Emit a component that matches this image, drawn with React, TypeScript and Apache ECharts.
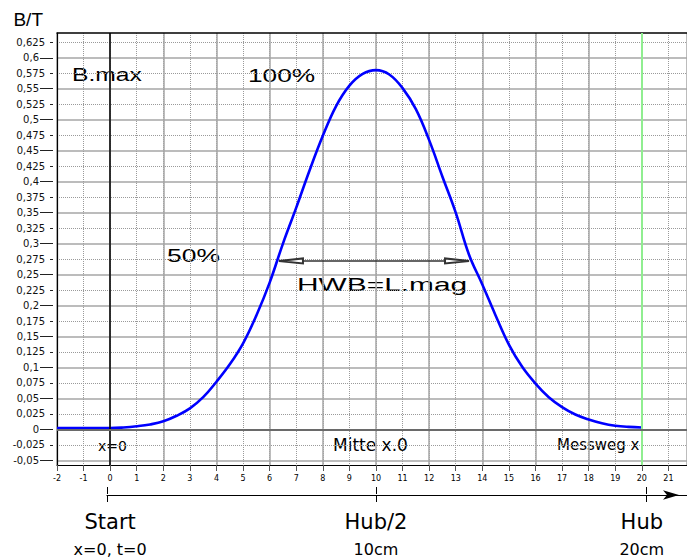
import React, { useEffect, useRef } from 'react';
import * as echarts from 'echarts';

// Position x along the stroke (cm) and measured flux density B (T)
const positions = [
  -2, -1.5, -1, -0.5, 0, 0.5, 1, 1.5, 2, 2.5, 3, 3.5, 4, 4.5, 5, 5.5, 6, 6.5, 7, 7.5,
  8, 8.5, 9, 9.5, 10, 10.5, 11, 11.5, 12, 12.5, 13, 13.5, 14, 14.5, 15, 15.5, 16, 16.5,
  17, 17.5, 18, 18.5, 19, 19.5, 20,
];
const fluxDensity = [
  0.002, 0.002, 0.002, 0.002, 0.002, 0.003, 0.005, 0.008, 0.013, 0.022, 0.034, 0.052,
  0.077, 0.105, 0.139, 0.184, 0.237, 0.300, 0.358, 0.418, 0.474, 0.522, 0.555, 0.574,
  0.580, 0.573, 0.551, 0.517, 0.467, 0.408, 0.350, 0.282, 0.234, 0.184, 0.137, 0.101,
  0.074, 0.052, 0.036, 0.024, 0.016, 0.010, 0.006, 0.004, 0.003,
];

const yMajorTicks = [-0.05, 0, 0.05, 0.1, 0.15, 0.2, 0.25, 0.3, 0.35, 0.4, 0.45, 0.5, 0.55, 0.6];
const yMinorTicks = [
  -0.025, 0.025, 0.075, 0.125, 0.175, 0.225, 0.275, 0.325, 0.375, 0.425, 0.475, 0.525, 0.575, 0.625,
];
const strokeTicks = [0, 10, 20];
const strokeLabels = ['Start', 'Hub/2', 'Hub'];
const strokeSubLabels = ['x=0, t=0', '10cm', '20cm'];

const startX = 0;
const endX = 20;
const hwbStart = 6.35;
const hwbEnd = 13.5;
const hwbLevel = 0.272;

const SANS = 'Liberation Sans, Arial, sans-serif';
const HAND = 'DejaVu Sans, sans-serif';

const fmtComma = (v: number) => String(v).replace('.', ',');

export default function App() {
  const ref = useRef<HTMLDivElement>(null);

  useEffect(() => {
    if (!ref.current) return;
    const chart = echarts.init(ref.current, undefined, { renderer: 'svg' });

    const yRange = { min: -0.0575, max: 0.64 };
    const xRange = { min: -2, max: 21.7 };
    const strokeRange = { min: 0, max: 21.52 };

    const option: any = {
      animation: false,
      backgroundColor: '#fff',
      grid: [
        { left: 57, right: 0, top: 33, bottom: 95, outerBoundsMode: 'none', containLabel: false },
        { left: 107, right: 0, top: 494, height: 1, outerBoundsMode: 'none', containLabel: false },
      ],
      xAxis: [
        {
          type: 'value', gridIndex: 0, ...xRange, interval: 1, position: 'bottom',
          axisLine: { show: true, onZero: false, lineStyle: { color: '#000', width: 1.2 } },
          axisTick: { show: true, length: 6, lineStyle: { color: '#555' } },
          axisLabel: {
            show: true, margin: 9, fontSize: 8, fontFamily: HAND, color: '#000',
            formatter: (v: number) => (Number.isInteger(v) ? String(v) : ''),
          },
          splitLine: { show: true, lineStyle: { color: '#9a9a9a', type: 'dotted', width: 1 } },
        },
        {
          type: 'value', gridIndex: 0, ...xRange, interval: 2, position: 'top',
          axisLine: { show: true, onZero: false, lineStyle: { color: '#000', width: 1.5 } },
          axisTick: { show: false }, axisLabel: { show: false },
          splitLine: { show: true, lineStyle: { color: '#a6a6a6', width: 1.5, type: 'solid' } },
        },
        {
          type: 'value', gridIndex: 0, ...xRange, position: 'bottom', offset: 30,
          axisLine: { show: false, onZero: false }, axisTick: { show: false },
          splitLine: { show: false },
          axisLabel: {
            show: true, customValues: strokeTicks, margin: 14,
            formatter: (v: number) => {
              const i = strokeTicks.indexOf(v);
              return `{a|${strokeLabels[i]}}\n{b|${strokeSubLabels[i]}}`;
            },
            rich: {
              a: { fontSize: 21, lineHeight: 26, fontFamily: HAND, color: '#000' },
              b: { fontSize: 16, lineHeight: 28, fontFamily: HAND, color: '#000' },
            },
          },
        },
        {
          type: 'value', gridIndex: 1, ...strokeRange, position: 'bottom',
          axisLine: {
            show: true, onZero: false, symbol: ['none', 'arrow'], symbolSize: [7, 16],
            symbolOffset: [0, -8], lineStyle: { color: '#000', width: 1.2 },
          },
          axisTick: { show: true, customValues: strokeTicks, length: 7, lineStyle: { color: '#000' } },
          axisLabel: { show: false }, splitLine: { show: false },
        },
        {
          type: 'value', gridIndex: 1, ...strokeRange, position: 'top',
          axisLine: { show: false, onZero: false },
          axisTick: { show: true, customValues: strokeTicks, length: 7, lineStyle: { color: '#000' } },
          axisLabel: { show: false }, splitLine: { show: false },
        },
      ],
      yAxis: [
        {
          type: 'value', gridIndex: 0, ...yRange, position: 'left',
          name: 'B/T', nameLocation: 'end', nameGap: 4,
          nameTextStyle: {
            fontSize: 19, fontFamily: SANS, color: '#000', align: 'right',
            verticalAlign: 'bottom', padding: [0, 14, 0, 0],
          },
          axisLine: { show: true, onZero: false, lineStyle: { color: '#000', width: 1.2 } },
          axisTick: { show: false }, axisLabel: { show: false }, splitLine: { show: false },
        },
        {
          type: 'value', gridIndex: 0, ...yRange, position: 'left', offset: 4,
          axisLine: { show: false, onZero: false },
          axisTick: { show: true, customValues: yMajorTicks, length: 13, lineStyle: { color: '#222' } },
          axisLabel: {
            show: true, customValues: yMajorTicks, margin: 14, fontSize: 10,
            fontFamily: HAND, color: '#111', formatter: fmtComma,
          },
          splitLine: { show: true, lineStyle: { color: '#a6a6a6', width: 1.5, type: 'solid' } },
        },
        {
          type: 'value', gridIndex: 0, ...yRange, position: 'left', offset: 4,
          axisLine: { show: false, onZero: false },
          axisTick: { show: true, customValues: yMinorTicks, length: 3, lineStyle: { color: '#222' } },
          axisLabel: {
            show: true, customValues: yMinorTicks, margin: 8, fontSize: 10,
            fontFamily: HAND, color: '#111', formatter: fmtComma,
          },
          splitLine: { show: true, lineStyle: { color: '#9a9a9a', width: 1, type: 'dotted' } },
        },
        { type: 'value', gridIndex: 1, min: 0, max: 1, show: false },
      ],
      series: [
        {
          type: 'line', xAxisIndex: 0, yAxisIndex: 0, data: [], silent: true, z: 1,
          markLine: {
            silent: true, symbol: 'none', animation: false, label: { show: false },
            data: [
              { xAxis: startX, lineStyle: { color: '#000', width: 1.5, type: 'solid' } },
              { xAxis: endX, lineStyle: { color: '#90ee90', width: 2, type: 'solid' } },
              { yAxis: 0, lineStyle: { color: '#6a6a6a', width: 2.2, type: 'solid' } },
            ],
          },
        },
        {
          type: 'line', xAxisIndex: 0, yAxisIndex: 0, z: 3,
          data: positions.map((x, i) => [x, fluxDensity[i]]),
          smooth: 0.4, symbol: 'none', showSymbol: false,
          lineStyle: { color: '#0000ff', width: 2.6 },
          itemStyle: { color: '#0000ff' },
          markLine: {
            silent: true, animation: false, label: { show: false },
            lineStyle: { color: '#333', width: 1.5, type: 'solid' },
            data: [
              [
                { coord: [hwbStart, hwbLevel], symbol: 'emptyTriangle', symbolSize: [5, 24], symbolOffset: [0, 12] },
                { coord: [hwbEnd, hwbLevel], symbol: 'emptyTriangle', symbolSize: [5, 24], symbolOffset: [0, 12] },
              ],
            ],
          },
        },
      ],
      graphic: [
        { type: 'text', x: 72, y: 74.5, scaleX: 1.37, style: { text: 'B.max', fontSize: 18, fontFamily: SANS, fill: '#000', verticalAlign: 'middle' } },
        { type: 'text', x: 248, y: 76, scaleX: 1.46, style: { text: '100%', fontSize: 18, fontFamily: SANS, fill: '#000', verticalAlign: 'middle' } },
        { type: 'text', x: 167, y: 256, scaleX: 1.47, style: { text: '50%', fontSize: 18, fontFamily: SANS, fill: '#000', verticalAlign: 'middle' } },
        { type: 'text', x: 297, y: 284.5, scaleX: 1.66, style: { text: 'HWB=L.mag', fontSize: 18, fontFamily: SANS, fill: '#000', verticalAlign: 'middle' } },
        { type: 'text', x: 98, y: 446, style: { text: 'x=0', fontSize: 14, fontFamily: HAND, fill: '#000', verticalAlign: 'middle' } },
        { type: 'text', x: 333, y: 445, style: { text: 'Mitte x.0', fontSize: 17, fontFamily: HAND, fill: '#000', verticalAlign: 'middle' } },
        { type: 'text', x: 557, y: 445, style: { text: 'Messweg x', fontSize: 15, fontFamily: HAND, fill: '#000', verticalAlign: 'middle' } },
      ],
    };

    chart.setOption(option);
    return () => chart.dispose();
  }, []);

  return (
    <div
      ref={ref}
      style={{ position: 'fixed', left: 0, top: 0, width: 687, height: 560, background: '#fff' }}
    />
  );
}
